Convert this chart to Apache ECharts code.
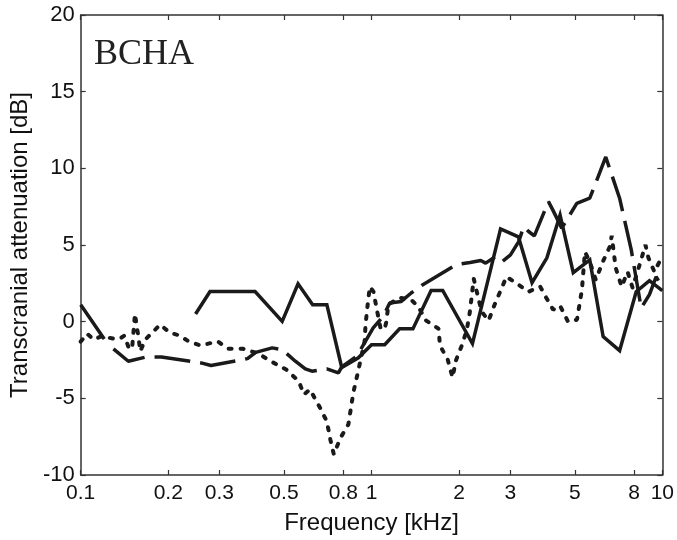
<!DOCTYPE html>
<html><head><meta charset="utf-8">
<script src="https://cdn.jsdelivr.net/npm/echarts@6/dist/echarts.min.js"></script>
<style>html,body{margin:0;padding:0;background:#fff}#c{width:677px;height:540px}</style>
</head><body><div id="c"></div>
<script>
const xTicks = [0.1, 0.2, 0.3, 0.5, 0.8, 1, 2, 3, 5, 8, 10];
const yTicks = [-10, -5, 0, 5, 10, 15, 20];

const solidFreq = [0.1, 0.1205, 0.18, 0.2483, 0.2784, 0.3978, 0.493, 0.5589, 0.6275, 0.7022, 0.790, 0.901, 1.0, 1.110, 1.249, 1.388, 1.603, 1.757, 2.224, 2.778, 3.200, 3.565, 4.01, 4.45, 4.94, 5.63, 6.26, 7.13, 8.13, 9.03, 10];
const solidDb = [1.11, -1.13, null, 0.50, 1.97, 1.97, 0.02, 2.47, 1.11, 1.11, -2.99, -2.36, -1.50, -1.50, -0.47, -0.47, 2.04, 2.04, -1.43, 6.05, 5.53, 2.54, 4.16, 6.96, 3.19, 4.03, -0.98, -1.89, 1.95, 2.67, 2.02];

const dashedFreq = [0.1296, 0.1458, 0.1684, 0.1895, 0.2594, 0.2806, 0.3745, 0.3997, 0.4557, 0.4930, 0.5472, 0.5920, 0.6241, 0.7022, 0.7697, 0.790, 0.8889, 1.0135, 1.096, 1.155, 1.266, 1.369, 1.501, 1.950, 2.182, 2.374, 2.469, 2.671, 2.815, 3.005, 3.207, 3.336, 3.470, 3.63, 4.06, 4.20, 4.51, 5.08, 5.63, 6.39, 7.13, 7.82, 8.46, 9.03, 9.52, 10];
const dashedDb = [-1.78, -2.58, -2.30, -2.30, -2.69, -2.86, -2.41, -2.00, -1.71, -1.82, -2.58, -3.08, -3.23, -3.08, -3.34, -2.95, -2.26, -0.41, 0.34, 1.22, 1.32, 1.87, 2.41, 3.71, 3.86, 3.99, 3.82, 4.25, 3.92, 4.36, 5.22, 6.20, 5.88, 5.60, 7.83, 7.29, 6.10, 7.72, 8.05, 10.74, 8.05, 4.68, 0.89, 1.76, 2.93, 2.28];

const dottedFreq = [0.1, 0.1051, 0.1108, 0.1170, 0.1246, 0.1317, 0.1380, 0.1413, 0.1470, 0.1505, 0.1537, 0.1559, 0.1578, 0.1603, 0.1667, 0.1875, 0.2029, 0.2194, 0.2355, 0.2588, 0.2958, 0.3200, 0.3600, 0.4082, 0.4522, 0.5087, 0.5620, 0.5859, 0.6142, 0.6645, 0.7022, 0.7218, 0.7418, 0.7838, 0.8327, 0.8661, 0.8960, 0.9465, 0.9539, 0.9690, 0.9868, 1.016, 1.040, 1.073, 1.108, 1.125, 1.143, 1.246, 1.369, 1.447, 1.541, 1.700, 1.720, 1.828, 1.900, 1.950, 2.056, 2.127, 2.177, 2.247, 2.319, 2.393, 2.527, 2.650, 2.778, 2.912, 3.200, 3.461, 3.804, 3.988, 4.213, 4.45, 4.740, 5.088, 5.291, 5.418, 5.63, 5.906, 6.241, 6.594, 6.699, 6.914, 7.247, 7.596, 7.901, 8.413, 8.750, 8.959, 9.391, 9.768, 10];
const dottedDb = [-1.30, -0.78, -1.17, -0.98, -1.04, -1.14, -1.04, -0.91, -1.82, -1.56, 0.52, -0.33, -0.91, -1.93, -1.17, -0.20, -0.72, -0.91, -1.30, -1.56, -1.28, -1.76, -1.76, -2.08, -2.60, -3.12, -3.88, -4.75, -4.42, -5.60, -6.51, -7.68, -8.65, -7.55, -6.70, -4.62, -3.38, -1.30, -0.20, 1.04, 2.28, 1.95, 0.91, -0.39, -0.52, 0.00, 1.11, 1.56, 1.43, 0.98, 0.07, -0.46, -1.56, -2.47, -3.64, -2.54, -1.43, -0.52, 0.59, 2.80, 1.69, 0.65, 0.07, 1.11, 2.02, 2.93, 2.41, 1.95, 2.28, 1.56, 0.78, 1.04, 0.00, 0.13, 2.08, 4.55, 3.90, 2.73, 3.90, 4.88, 5.60, 3.51, 2.28, 3.25, 2.21, 3.90, 5.01, 4.16, 3.25, 3.90, 3.51];

function zip(f, d) { return f.map((v, i) => [v, d[i]]); }

const axisColor = '#333';
const lineColor = '#1a1a1a';
const fontFam = 'Liberation Sans, Arial, sans-serif';

const chart = echarts.init(document.getElementById('c'), null, {renderer: 'canvas'});
const xCommon = {
  type: 'log', logBase: 10, min: 0.1, max: 10,
  axisLine: {show: true, onZero: false, lineStyle: {color: axisColor, width: 1.5}},
  axisTick: {show: true, inside: true, length: 5, customValues: xTicks, lineStyle: {color: axisColor, width: 1.2}},
  minorTick: {show: false},
  splitLine: {show: false}
};
const yCommon = {
  type: 'value', min: -10, max: 20, interval: 5,
  axisLine: {show: true, onZero: false, lineStyle: {color: axisColor, width: 1.5}},
  axisTick: {show: true, inside: true, length: 5, lineStyle: {color: axisColor, width: 1.2}},
  splitLine: {show: false}
};
chart.setOption({
  animation: false,
  backgroundColor: '#fff',
  grid: {left: 77, right: 14, top: 15, bottom: 64, containLabel: false},
  xAxis: [
    Object.assign({}, xCommon, {
      position: 'bottom',
      name: 'Frequency [kHz]', nameLocation: 'middle', nameGap: 36,
      nameTextStyle: {fontSize: 24, color: '#111', fontFamily: fontFam},
      axisLabel: {show: true, customValues: xTicks, margin: 8, fontSize: 21, color: '#111', fontFamily: fontFam,
        formatter: v => String(+(+v).toPrecision(3))}
    }),
    Object.assign({}, xCommon, {position: 'top', axisLabel: {show: false}})
  ],
  yAxis: [
    Object.assign({}, yCommon, {
      position: 'left',
      name: 'Transcranial attenuation [dB]', nameLocation: 'middle', nameGap: 44,
      nameTextStyle: {fontSize: 24, color: '#111', fontFamily: fontFam},
      axisLabel: {show: true, margin: 6, fontSize: 22, color: '#111', fontFamily: fontFam}
    }),
    Object.assign({}, yCommon, {position: 'right', axisLabel: {show: false}})
  ],
  graphic: [{
    type: 'text', left: 94, top: 37,
    style: {text: 'BCHA', fontSize: 36, fontFamily: 'Liberation Serif, Times New Roman, serif', fill: '#222'}
  }],
  series: [
    {type: 'line', name: 'solid', data: zip(solidFreq, solidDb), showSymbol: false, symbol: 'none', connectNulls: false,
      lineStyle: {color: lineColor, width: 3.5, type: 'solid', join: 'miter'}},
    {type: 'line', name: 'dashed', data: zip(dashedFreq, dashedDb), showSymbol: false, symbol: 'none',
      lineStyle: {color: lineColor, width: 3.5, type: [36, 10], cap: 'butt'}},
    {type: 'line', name: 'dotted', data: zip(dottedFreq, dottedDb), showSymbol: false, symbol: 'none',
      lineStyle: {color: lineColor, width: 4, type: [3, 9], cap: 'round'}}
  ]
});
</script>
</body></html>
